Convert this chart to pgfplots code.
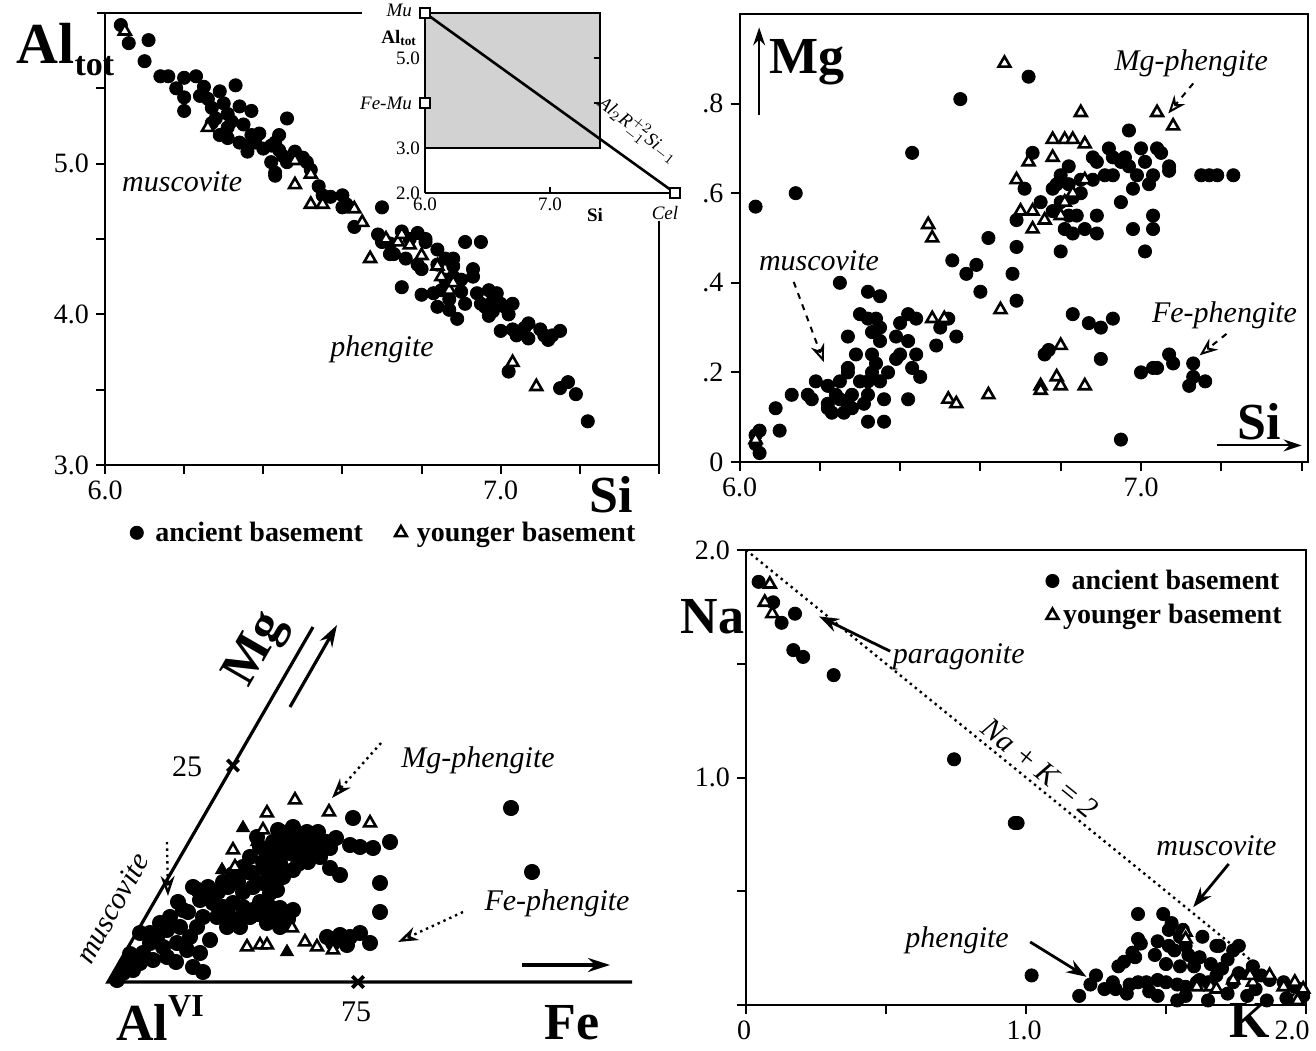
\documentclass[border=0pt]{standalone}
\usepackage{pgfplots}
\pgfplotsset{compat=1.18}
\usepackage{fontspec}
\setmainfont{Liberation Serif}
\usetikzlibrary{arrows.meta}

\pgfplotsset{
  anc/.style={only marks, mark=*, mark size=3.3pt, black},
  yng/.style={only marks, mark=triangle*, mark size=3.4pt,
    mark options={solid, fill=white, draw=black, line width=1.3pt}},
  yngf/.style={only marks, mark=triangle*, mark size=3.8pt, black},
  tlab/.style={font=\fontsize{14}{14}\selectfont},
}
\newcommand{\ann}{\itshape\fontsize{15}{15}\selectfont}
\newcommand{\biglab}{\bfseries\fontsize{26}{26}\selectfont}

\begin{document}
\begin{tikzpicture}

% ---------------- top left: Al_tot vs Si
\begin{axis}[at={(52.5pt,292.5pt)}, anchor=south west, scale only axis,
  width=277pt, height=226pt,
  xmin=6, xmax=7.4, ymin=3, ymax=6, clip=false,
  axis x line=bottom, axis y line=left, axis line style={-, line width=1pt},
  tick align=outside, major tick length=4.5pt, tick style={line width=1pt, black},
  xtick={6,6.2,6.4,6.6,6.8,7,7.2,7.4}, xticklabels={6.0,,,,,7.0,,},
  ytick={3,3.5,4,4.5,5,5.5}, yticklabels={3.0,,4.0,,5.0,},
  tick label style={tlab},
  legend style={at={(0.505,-0.15)}, anchor=center, draw=none, fill=none,
    font=\fontsize{14}{14}\selectfont\bfseries,
    /tikz/every even column/.append style={column sep=14pt}},
  legend columns=2,
]
\addplot[anc] coordinates {
(6.04,5.92)(6.06,5.80)(6.11,5.82)(6.10,5.68)(6.14,5.58)(6.16,5.58)(6.18,5.50)(6.20,5.57)
(6.23,5.58)(6.20,5.44)(6.20,5.35)(6.25,5.51)(6.24,5.45)(6.26,5.43)(6.29,5.48)(6.33,5.52)
(6.27,5.37)(6.28,5.30)(6.30,5.40)(6.31,5.33)(6.34,5.38)(6.37,5.35)(6.27,5.27)(6.31,5.24)
(6.32,5.28)(6.35,5.26)(6.37,5.19)(6.39,5.20)(6.29,5.19)(6.31,5.17)(6.34,5.14)(6.36,5.12)
(6.38,5.14)(6.36,5.08)(6.40,5.10)(6.42,5.12)(6.44,5.19)(6.46,5.30)(6.43,5.14)(6.44,5.09)
(6.42,5.01)(6.45,5.05)(6.46,5.01)(6.43,4.92)(6.43,4.94)(6.48,5.08)(6.50,5.04)(6.52,4.96)
(6.51,5.01)(6.54,4.85)(6.55,4.79)(6.57,4.78)(6.60,4.79)(6.61,4.73)(6.60,4.71)(6.63,4.58)
(6.70,4.71)
(6.69,4.53)(6.70,4.48)(6.72,4.47)(6.73,4.40)(6.75,4.55)(6.77,4.50)(6.79,4.54)(6.81,4.48)
(6.81,4.50)(6.84,4.43)(6.76,4.37)(6.79,4.33)(6.80,4.30)(6.84,4.33)(6.86,4.37)(6.88,4.37)
(6.91,4.48)(6.95,4.48)(6.88,4.32)(6.88,4.25)(6.93,4.25)(6.86,4.23)(6.90,4.23)(6.85,4.16)
(6.83,4.14)(6.90,4.15)(6.87,4.10)(6.91,4.07)(6.95,4.07)(6.97,4.16)(6.99,4.14)(6.96,4.05)
(6.98,4.09)(7.00,4.07)(7.01,4.05)(7.03,4.07)(7.02,4.00)(7.00,3.89)(7.03,3.90)(7.04,3.86)
(7.06,3.91)(7.07,3.94)(7.10,3.90)(7.11,3.86)(7.13,3.86)(7.15,3.89)(7.12,3.83)(7.07,3.84)
(6.75,4.18)(6.80,4.13)(6.84,4.05)(6.87,4.03)(6.89,3.97)(6.72,4.40)(6.93,4.30)(6.94,4.14)
(6.98,4.02)(6.97,3.99)
(7.02,3.62)(7.15,3.51)(7.17,3.55)(7.19,3.47)(7.22,3.29)};
\addlegendentry{\hspace{4pt}ancient basement}
\addplot[yng] coordinates {
(6.05,5.88)(6.26,5.24)(6.48,5.02)(6.48,4.86)(6.52,4.73)(6.55,4.73)(6.63,4.70)(6.65,4.61)
(6.52,4.93)(6.67,4.37)(6.71,4.50)(6.74,4.48)(6.75,4.53)(6.77,4.46)(6.80,4.39)(6.84,4.32)
(6.85,4.25)(6.87,4.16)(6.88,4.21)(7.03,3.68)(7.09,3.52)};
\addlegendentry{\hspace{3pt}younger basement}
\draw[line width=1pt] (axis cs:5.98,6) -- (axis cs:6.65,6);
\draw[line width=1pt] (axis cs:7.4,3) -- (axis cs:7.4,4.62);
\node at (axis cs:5.90,5.76) {\bfseries\fontsize{29}{29}\selectfont Al\raisebox{-0.45ex}{\fontsize{17}{17}\selectfont tot}};
\node at (axis cs:6.195,4.88) {\ann muscovite};
\node at (axis cs:6.70,3.77) {\ann phengite};
\node at (axis cs:7.28,2.80) {\biglab Si};
\end{axis}

% ---------------- inset
\begin{axis}[at={(212.5pt,428.5pt)}, anchor=south west, scale only axis,
  width=125pt, height=90pt, xmin=6, xmax=8, ymin=2, ymax=6, clip=false,
  axis x line=bottom, axis y line=left, axis line style={-, line width=0.8pt},
  tick align=inside, major tick length=3pt, tick style={line width=0.6pt, black},
  xtick={6,7}, xticklabels={6.0,7.0}, ytick={2,3,5}, yticklabels={2.0,3.0,5.0},
  tick label style={font=\fontsize{9.5}{9.5}\selectfont},
  xticklabel style={yshift=1pt}, yticklabel style={xshift=1pt},
]
\addplot[fill=gray!35, draw=black, line width=0.8pt, forget plot] coordinates {(6,3)(7.4,3)(7.4,6)(6,6)} -- cycle;
\addplot[black, line width=1.3pt, forget plot] coordinates {(6,6)(8,2)};
\addplot[only marks, mark=square*, mark size=2.5pt, mark options={fill=white, draw=black, line width=0.9pt}, forget plot]
  coordinates {(6,6)(6,4)(8,2)};
\draw[line width=0.6pt] (axis cs:7.4,5) -- ++(-3pt,0pt);
\draw[line width=0.6pt] (axis cs:7.4,4) -- ++(-3pt,0pt);
\node[anchor=east, inner sep=2pt] at (axis cs:5.93,6.05) {\itshape\fontsize{9.5}{9.5}\selectfont Mu};
\node[anchor=east, inner sep=2pt] at (axis cs:5.97,5.45) {\bfseries\fontsize{9.5}{9.5}\selectfont Al\textsubscript{tot}};
\node[anchor=east, inner sep=2pt] at (axis cs:5.93,4.0) {\itshape\fontsize{9.5}{9.5}\selectfont Fe-Mu};
\node[anchor=north] at (axis cs:7.92,1.85) {\itshape\fontsize{9.5}{9.5}\selectfont Cel};
\node at (axis cs:7.36,1.52) {\bfseries\fontsize{9.5}{9.5}\selectfont Si};
\node[rotate=-38] at (axis cs:7.70,3.38) {\itshape\fontsize{9.5}{9.5}\selectfont Al$_2$R$^{+2}_{-1}$Si$_{-1}$};
\end{axis}

% ---------------- top right: Mg vs Si
\begin{axis}[at={(369.75pt,294pt)}, anchor=south west, scale only axis,
  width=284.25pt, height=224pt,
  xmin=6, xmax=7.416, ymin=0, ymax=1, clip=false,
  axis line style={line width=1pt},
  tick align=outside, major tick length=4.5pt, tick style={line width=1pt, black},
  xtick pos=left, ytick pos=left,
  xtick={6,6.2,6.4,6.6,6.8,7,7.2,7.4}, xticklabels={6.0,,,,,7.0,,},
  ytick={0,0.2,0.4,0.6,0.8}, yticklabels={0,.2,.4,.6,.8},
  tick label style={tlab},
]
\addplot[anc] coordinates {
(6.04,0.57)(6.14,0.60)(6.43,0.69)(6.55,0.81)(6.72,0.86)(6.25,0.40)(6.53,0.45)(6.565,0.42)
(6.59,0.44)(6.60,0.38)(6.62,0.50)(6.68,0.42)(6.69,0.36)(6.69,0.48)
(6.69,0.54)(6.71,0.61)(6.73,0.69)(6.75,0.58)(6.78,0.61)(6.78,0.56)(6.79,0.62)(6.80,0.47)
(6.81,0.52)(6.82,0.66)(6.82,0.62)(6.82,0.55)(6.83,0.59)(6.83,0.51)(6.84,0.55)(6.86,0.52)
(6.88,0.63)(6.89,0.55)(6.89,0.51)(6.85,0.60)(6.88,0.68)(6.89,0.67)(6.92,0.70)(6.93,0.64)
(6.95,0.58)(6.96,0.68)(6.97,0.74)(6.97,0.66)(6.98,0.61)(6.98,0.52)(6.99,0.64)(7.00,0.70)
(7.01,0.67)(7.01,0.47)(7.02,0.62)(7.03,0.64)(7.03,0.55)(7.03,0.52)(7.04,0.70)(7.05,0.69)
(7.07,0.66)(7.07,0.65)(7.15,0.64)(7.17,0.64)(7.19,0.64)(7.23,0.64)(6.80,0.58)(6.80,0.64)
(6.85,0.63)(6.91,0.64)(6.93,0.68)(6.95,0.67)
(6.32,0.38)(6.35,0.37)(6.30,0.33)(6.32,0.32)(6.34,0.32)(6.35,0.30)(6.27,0.28)(6.33,0.29)
(6.35,0.27)(6.29,0.24)(6.27,0.21)(6.27,0.20)(6.25,0.18)(6.33,0.24)(6.34,0.22)(6.33,0.20)
(6.35,0.18)(6.37,0.20)(6.32,0.18)(6.32,0.15)(6.39,0.28)(6.42,0.27)(6.40,0.24)(6.39,0.23)
(6.44,0.24)(6.43,0.21)(6.45,0.19)(6.42,0.33)(6.44,0.32)(6.40,0.31)(6.49,0.26)(6.50,0.30)
(6.54,0.28)(6.52,0.32)(6.42,0.14)(6.19,0.18)(6.22,0.17)(6.24,0.15)(6.22,0.13)(6.25,0.14)
(6.27,0.13)(6.28,0.12)(6.26,0.11)(6.23,0.11)(6.22,0.12)(6.13,0.15)(6.17,0.15)(6.18,0.14)
(6.09,0.12)(6.10,0.07)(6.32,0.09)(6.36,0.09)(6.31,0.13)(6.36,0.14)(6.28,0.15)(6.30,0.18)
(6.04,0.06)(6.05,0.07)(6.04,0.04)(6.05,0.02)
(6.76,0.24)(6.77,0.25)(6.83,0.33)(6.87,0.31)(6.90,0.30)(6.93,0.32)(6.90,0.23)(6.95,0.05)
(7.00,0.20)(7.03,0.21)(7.04,0.21)(7.07,0.24)(7.08,0.22)(7.13,0.22)(7.12,0.17)(7.13,0.19)
(7.16,0.18)};
\addplot[yng] coordinates {
(6.66,0.89)(6.85,0.78)(7.04,0.78)(7.08,0.75)(6.47,0.53)(6.48,0.50)(6.72,0.67)(6.69,0.63)
(6.70,0.56)(6.73,0.56)(6.73,0.52)(6.76,0.54)(6.78,0.68)(6.78,0.72)(6.81,0.72)(6.83,0.72)
(6.86,0.71)(6.86,0.63)(6.80,0.55)(6.81,0.58)(6.83,0.60)(6.65,0.34)(6.48,0.32)(6.51,0.32)
(6.52,0.14)(6.54,0.13)(6.62,0.15)(6.04,0.05)(6.75,0.17)(6.75,0.16)(6.79,0.19)(6.80,0.17)
(6.80,0.26)(6.86,0.17)};
\draw[line width=1pt, -{Stealth[length=9pt, width=6pt]}] (axis cs:6.049,0.774) -- (axis cs:6.049,0.97);
\node at (axis cs:6.167,0.893) {\biglab Mg};
\draw[line width=1pt, -{Stealth[length=9pt, width=6pt]}] (axis cs:7.19,0.037) -- (axis cs:7.40,0.037);
\node at (axis cs:7.294,0.09) {\biglab Si};
\node at (axis cs:7.125,0.889) {\ann Mg-phengite};
\draw[line width=1pt, dashed, -{Stealth[length=9pt, width=7pt, open]}] (axis cs:7.13,0.845) -- (axis cs:7.068,0.778);
\node at (axis cs:6.198,0.45) {\ann muscovite};
\draw[line width=1pt, dashed, -{Stealth[length=9pt, width=7pt, open]}] (axis cs:6.135,0.402) -- (axis cs:6.21,0.223);
\node at (axis cs:7.208,0.327) {\ann Fe-phengite};
\draw[line width=1pt, dashed, -{Stealth[length=9pt, width=7pt, open]}] (axis cs:7.213,0.286) -- (axis cs:7.146,0.238);
\end{axis}

% ---------------- bottom left: Al(VI)-Mg-Fe triangle
\begin{axis}[at={(4pt,4pt)}, anchor=south west, x=5pt, y=5pt,
  xmin=-10, xmax=56, ymin=-6, ymax=42, axis lines=none, clip=false]
\addplot[black, line width=1.6pt, forget plot] coordinates {(20.5,35.5)(0,0)(52.4,0)};
\addplot[only marks, mark=x, mark size=4pt, line width=1.8pt, black, forget plot]
  coordinates {(12.5,21.65)(25,0)};
\addplot[anc, mark size=3.8pt] coordinates {
(18.5,15.5)(19.9,15.0)(20.9,14.7)(21.9,14.0)(22.2,13.4)(17.7,14.5)(16.5,14.0)(15.2,13.5)
(14.2,12.5)(13.5,11.5)(14.5,10.9)(15.9,11.2)(17.2,11.9)(18.2,12.9)(19.2,13.5)(20.5,13.2)
(21.2,12.5)(19.5,12.2)(18.5,11.2)(17.5,10.5)(16.5,10.2)(15.5,9.9)(14.5,9.5)(16.2,12.5)
(17.2,13.5)(19.2,14.5)(14.9,14.5)(24.5,16.4)(24.2,13.7)(25.2,13.5)(26.5,13.4)(28.2,14.0)
(22.2,11.4)(23.2,10.7)(27.2,9.9)(27.2,7.0)(16.0,13.0)(17.0,12.5)(18.0,13.5)(19.0,12.8)
(20.0,13.8)(15.5,12.0)(14.0,11.0)(18.7,14.0)(20.0,12.0)(21.0,13.5)(13.0,10.0)(12.0,9.5)
(11.0,9.0)(10.5,8.5)(17.0,15.2)(18.0,15.0)(21.0,15.0)(22.8,14.4)(16.8,11.0)(19.0,11.8)
(12.5,10.8)(11.5,10.0)(10.0,9.5)(9.0,9.2)(13.5,9.0)
(21.9,4.5)(23.2,4.7)(24.2,4.5)(25.2,4.9)(26.2,3.9)(23.9,3.7)(22.5,3.9)
(17.2,5.5)(16.5,6.5)(17.2,7.4)(16.2,7.5)(15.2,8.0)(14.5,7.2)(13.5,7.5)(12.5,7.9)
(11.5,7.5)(10.5,7.9)(9.9,8.9)(8.5,9.5)(9.2,8.2)(10.9,6.5)(11.9,5.5)(13.2,5.5)
(14.2,6.5)(15.9,5.9)(16.2,8.9)(16.9,9.2)(18.0,6.3)(18.5,7.2)(12.0,6.8)(13.0,6.3)
(15.0,6.8)(8.0,7.0)(7.0,8.0)(9.5,6.5)
(6.2,6.5)(7.2,5.5)(8.2,4.5)(5.9,5.2)(4.9,4.5)(6.9,3.9)(7.9,3.2)(9.2,2.9)
(10.2,4.2)(5.5,3.5)(4.2,3.9)(3.5,2.9)(3.2,1.9)(2.5,1.2)(1.5,0.9)(0.9,0.2)
(8.5,1.5)(9.5,1.0)(7.5,7.2)(5.2,5.9)(4.2,4.9)(3.2,4.9)(8.9,5.5)(5.9,2.5)(4.5,2.2)
(6.8,2.0)(2.2,2.8)(1.8,1.8)
(40.3,17.4)(42.4,11.0)};
\addplot[yngf] coordinates {(13.5,15.4)(11.4,11.2)(17.9,3.0)(14.9,14.0)};
\addplot[yng] coordinates {
(18.7,18.2)(22.1,17.0)(26.2,15.9)(15.9,16.9)(15.5,15.2)(12.5,13.2)(12.7,11.5)(13.9,3.5)
(15.2,3.7)(15.9,3.7)(18.4,5.4)(19.7,4.0)(20.9,3.5)(22.5,3.2)};
\draw[line width=1.6pt, -{Stealth[length=11pt, width=7pt]}] (axis cs:18.2,27.5) -- (axis cs:22.9,35.7);
\draw[line width=1.6pt, -{Stealth[length=11pt, width=7pt]}] (axis cs:41.4,1.7) -- (axis cs:50.2,1.7);
\node[rotate=60] at (axis cs:14.9,33.2) {\biglab Mg};
\node at (axis cs:7.9,21.5) {\fontsize{15}{15}\selectfont 25};
\node at (axis cs:24.8,-3.0) {\fontsize{15}{15}\selectfont 75};
\node at (axis cs:5.2,-3.6) {\biglab Al\raisebox{1.0ex}{\fontsize{16}{16}\selectfont VI}};
\node at (axis cs:46.4,-4.1) {\biglab Fe};
\node at (axis cs:37.0,22.2) {\ann Mg-phengite};
\draw[line width=1.2pt, dotted, -{Stealth[length=10pt, width=7pt, open]}] (axis cs:27.3,23.9) -- (axis cs:22.4,18.4);
\node at (axis cs:44.9,7.9) {\ann Fe-phengite};
\draw[line width=1.2pt, dotted, -{Stealth[length=10pt, width=7pt, open]}] (axis cs:35.5,7.0) -- (axis cs:29.0,4.0);
\node[rotate=61] at (axis cs:0.4,7.4) {\ann muscovite};
\draw[line width=1.2pt, dotted, -{Stealth[length=10pt, width=7pt, open]}] (axis cs:5.9,14.0) -- (axis cs:6.0,8.6);
\end{axis}

% ---------------- bottom right: Na vs K
\begin{axis}[at={(373pt,22.5pt)}, anchor=south west, scale only axis,
  width=280pt, height=227.5pt,
  xmin=0, xmax=2, ymin=0, ymax=2, clip=false,
  axis line style={line width=1pt},
  tick align=outside, major tick length=4.5pt, tick style={line width=1pt, black},
  xtick pos=left, ytick pos=left,
  xtick={0,0.5,1,1.5,2}, xticklabels={0,,1.0,,\hspace{-12pt}2.0},
  ytick={0,0.5,1,1.5,2}, yticklabels={,,1.0,,2.0},
  xticklabel style={xshift=-1pt},
  tick label style={tlab},
  legend style={at={(0.975,0.975)}, anchor=north east, draw=none, fill=none,
    font=\fontsize{14}{14}\selectfont\bfseries, row sep=2pt},
]
\addplot[black, dotted, line width=1.2pt, forget plot] coordinates {(0,2)(2,0)};
\addplot[anc] coordinates {
(0.045,1.86)(0.097,1.77)(0.127,1.68)(0.175,1.72)(0.169,1.56)(0.204,1.53)(0.313,1.45)
(0.743,1.08)(0.96,0.80)(0.97,0.80)(1.02,0.13)
(1.19,0.04)(1.23,0.09)(1.25,0.13)(1.28,0.07)(1.32,0.07)(1.31,0.10)(1.37,0.09)(1.40,0.10)
(1.43,0.10)(1.47,0.11)(1.50,0.10)(1.54,0.09)(1.57,0.08)(1.61,0.10)(1.65,0.10)(1.33,0.17)
(1.35,0.19)(1.38,0.23)(1.41,0.27)(1.40,0.40)(1.49,0.40)(1.46,0.22)(1.47,0.28)(1.51,0.33)
(1.51,0.26)(1.55,0.30)(1.57,0.26)(1.63,0.30)(1.62,0.21)(1.68,0.26)(1.72,0.20)(1.74,0.24)
(1.76,0.26)(1.76,0.14)(1.81,0.17)(1.84,0.13)(1.87,0.11)(1.92,0.10)(1.96,0.08)(1.98,0.07)
(1.99,0.04)(1.57,0.04)(1.65,0.02)(1.72,0.05)(1.79,0.04)(1.86,0.02)(1.93,0.03)(1.68,0.13)
(1.55,0.17)(1.50,0.18)(1.60,0.17)(1.54,0.02)(1.47,0.04)(1.62,0.11)(1.74,0.10)(1.82,0.07)
(1.40,0.29)(1.39,0.21)(1.69,0.26)(1.52,0.36)(1.56,0.33)(1.58,0.22)(1.53,0.24)(1.66,0.18)
(1.70,0.16)(1.44,0.06)(1.36,0.05)};
\addlegendentry{\hspace{3pt}ancient basement}
\addplot[yng] coordinates {
(0.085,1.85)(0.067,1.77)(0.094,1.72)(1.57,0.32)(1.66,0.08)(1.68,0.07)(1.74,0.11)(1.80,0.15)
(1.81,0.10)(1.87,0.13)(1.92,0.08)(1.96,0.10)(1.99,0.07)(1.61,0.08)(1.80,0.13)(1.97,0.02)
(1.57,0.29)};
\addlegendentry{younger basement}
\node at (axis cs:-0.12,1.705) {\biglab Na};
\node at (axis cs:1.80,-0.07) {\biglab K};
\node[rotate=-39] at (axis cs:1.05,1.04) {\ann Na + K = 2};
\node at (axis cs:0.76,1.53) {\ann paragonite};
\draw[line width=1.4pt, -{Stealth[length=10pt, width=7pt]}] (axis cs:0.515,1.555) -- (axis cs:0.261,1.708);
\node at (axis cs:1.68,0.70) {\ann muscovite};
\draw[line width=1.4pt, -{Stealth[length=10pt, width=7pt]}] (axis cs:1.724,0.62) -- (axis cs:1.597,0.43);
\node at (axis cs:0.754,0.285) {\ann phengite};
\draw[line width=1.4pt, -{Stealth[length=10pt, width=7pt]}] (axis cs:1.015,0.277) -- (axis cs:1.216,0.124);
\end{axis}

\pgfresetboundingbox
\path[use as bounding box] (0,0) rectangle (658pt,525pt);
\end{tikzpicture}
\end{document}
